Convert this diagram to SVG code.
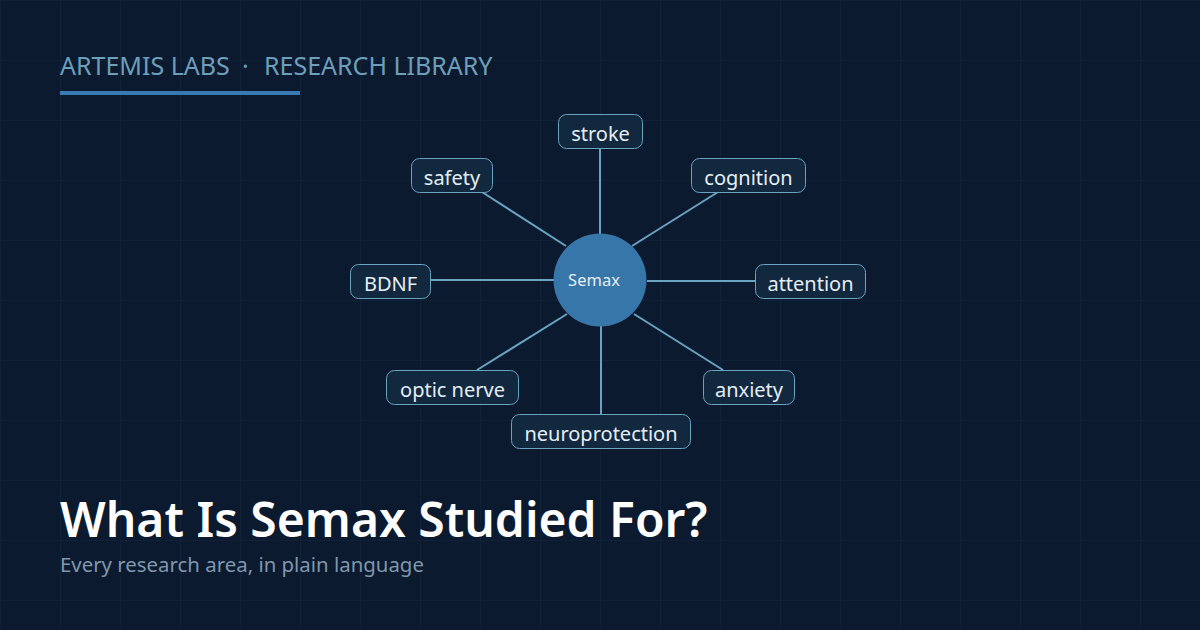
<svg xmlns="http://www.w3.org/2000/svg" width="1200" height="630" viewBox="0 0 1200 630">
  <defs>
    <pattern id="grid" width="60" height="60" patternUnits="userSpaceOnUse">
      <path d="M60 0H0V60" fill="none" stroke="#14263d" stroke-width="1"/>
    </pattern>
  </defs>
  <style>
    .bg { fill: #0c1a2f; }
    .box { fill: #12283f; stroke: #6aa3c0; stroke-width: 1; }
    .lbl { font-family: "Noto Sans", "Open Sans", sans-serif; font-size: 20px; fill: #e6eef5; text-anchor: middle; }
    .edge { stroke: #6aa3c0; stroke-width: 2; fill: none; }
    .hdr { font-family: "Noto Sans", "Open Sans", sans-serif; font-size: 25px; fill: #6e9fba; }
    .title { font-family: "Noto Sans", "Open Sans", sans-serif; font-size: 48px; font-weight: 600; fill: #ffffff; }
    .sub { font-family: "Noto Sans", "Open Sans", sans-serif; font-size: 20.4px; fill: #7f97ad; }
  </style>
  <rect class="bg" x="0" y="0" width="1200" height="630"/>
  <rect x="0" y="0" width="1200" height="630" fill="url(#grid)"/>

  <g id="header">
    <text class="hdr" y="75"><tspan x="60">ARTEMIS LABS</tspan><tspan x="242">·</tspan><tspan x="264">RESEARCH LIBRARY</tspan></text>
    <rect x="60" y="91" width="240" height="4" fill="#3a7ab3"/>
  </g>

  <g id="connectors">
    <line class="edge" x1="600" y1="148" x2="600" y2="234"/>
    <line class="edge" x1="482" y1="192" x2="566" y2="246"/>
    <line class="edge" x1="718" y1="192" x2="632" y2="246"/>
    <line class="edge" x1="430" y1="280" x2="554" y2="280"/>
    <line class="edge" x1="647" y1="281" x2="755" y2="281"/>
    <line class="edge" x1="567" y1="314" x2="477" y2="370"/>
    <line class="edge" x1="634" y1="314" x2="723" y2="370"/>
    <line class="edge" x1="601" y1="326" x2="601" y2="414"/>
  </g>

  <g id="semax">
    <circle cx="600" cy="280" r="46.5" fill="#3776a8"/>
    <text x="594" y="286" font-family="Noto Sans, Open Sans, sans-serif" font-size="16.5" fill="#e6eef5" text-anchor="middle">Semax</text>
  </g>

  <g id="stroke">
    <rect class="box" x="558.5" y="114.5" width="84" height="34" rx="8"/>
    <text class="lbl" x="600.5" y="141">stroke</text>
  </g>
  <g id="safety">
    <rect class="box" x="411.5" y="158.5" width="81" height="34" rx="8"/>
    <text class="lbl" x="452" y="185">safety</text>
  </g>
  <g id="cognition">
    <rect class="box" x="691.5" y="158.5" width="114" height="34" rx="8"/>
    <text class="lbl" x="748.5" y="185">cognition</text>
  </g>
  <g id="bdnf">
    <rect class="box" x="350.5" y="264.5" width="80" height="34" rx="8"/>
    <text class="lbl" x="390.5" y="291">BDNF</text>
  </g>
  <g id="attention">
    <rect class="box" x="755.5" y="264.5" width="110" height="34" rx="8"/>
    <text class="lbl" x="810.5" y="291">attention</text>
  </g>
  <g id="optic-nerve">
    <rect class="box" x="386.5" y="370.5" width="132" height="34" rx="8"/>
    <text class="lbl" x="452.5" y="397">optic nerve</text>
  </g>
  <g id="anxiety">
    <rect class="box" x="703.5" y="370.5" width="91" height="34" rx="8"/>
    <text class="lbl" x="749" y="397">anxiety</text>
  </g>
  <g id="neuroprotection">
    <rect class="box" x="511.5" y="414.5" width="179" height="34" rx="8"/>
    <text class="lbl" x="601" y="441">neuroprotection</text>
  </g>

  <g id="title">
    <text class="title" x="60" y="537">What Is Semax Studied For?</text>
    <text class="sub" x="60" y="572">Every research area, in plain language</text>
  </g>
</svg>
